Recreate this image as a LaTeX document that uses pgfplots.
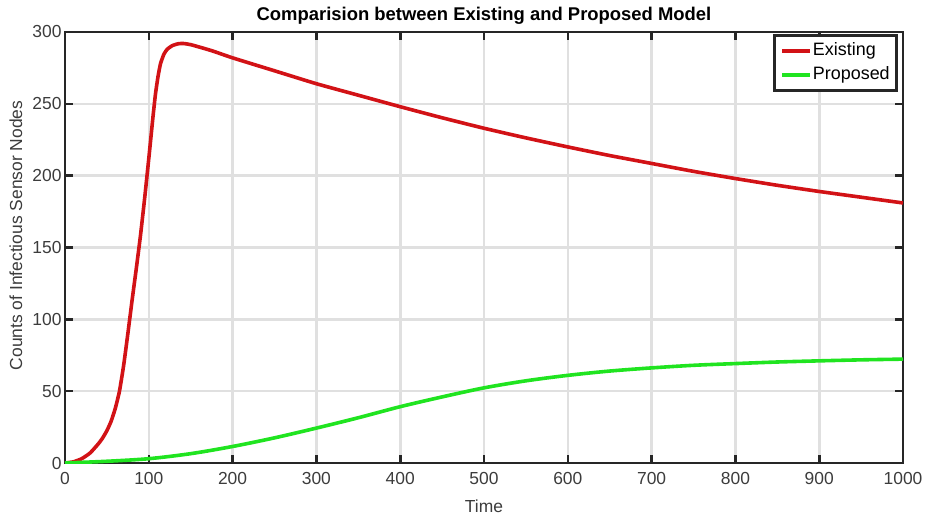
\documentclass[border=0pt]{standalone}
\usepackage{pgfplots}
\pgfplotsset{compat=1.18}
\usepackage{fontspec}
\setmainfont{Liberation Sans}

\definecolor{exred}{RGB}{210,18,22}
\definecolor{prgreen}{RGB}{32,228,32}
\definecolor{gridgray}{RGB}{224,224,224}
\definecolor{axisblack}{RGB}{38,38,38}
\definecolor{labelgray}{RGB}{60,60,60}

\begin{document}
\begin{tikzpicture}
\begin{axis}[
  scale only axis,
  width=838bp, height=431bp,
  xmin=0, xmax=1000, ymin=0, ymax=300,
  xtick={0,100,...,1000},
  ytick={0,50,...,300},
  grid=major,
  major grid style={line width=2.6bp, color=gridgray},
  axis line style={line width=2.6bp, color=axisblack},
  tick style={line width=2.6bp, color=axisblack},
  major tick length=8bp,
  tick align=inside,
  /pgf/number format/assume math mode=true,
  /pgf/number format/1000 sep={},
  ticklabel style={font=\fontsize{17.5}{20}\selectfont, text=labelgray},
  xticklabel style={yshift=-6bp},
  title={\bfseries Comparision between Existing and Proposed Model},
  title style={font=\fontsize{18.5}{20}\selectfont, yshift=-2bp},
  xlabel={Time},
  ylabel={Counts of Infectious Sensor Nodes},
  label style={font=\fontsize{17.5}{20}\selectfont, text=labelgray},
  xlabel style={at={(axis description cs:0.5,0)}, anchor=center, yshift=-43bp},
  ylabel style={at={(axis description cs:0,0.528)}, anchor=center, yshift=49bp},
  legend style={
    at={(1,1)}, anchor=north east, xshift=-5bp, yshift=-2bp,
    draw=axisblack, line width=2.6bp,
    font=\fontsize{18}{20}\selectfont,
    inner sep=6bp, row sep=5bp,
    text=black,
    nodes={text height=13bp, text depth=4bp, inner sep=1bp},
  },
  legend cell align=left,
  legend image code/.code={\draw[#1] (0bp,0bp) -- (28bp,0bp);},
]

% Existing model
\addplot[exred, line width=3.6bp, smooth, tension=0.3] coordinates {
  (0,0) (10,0.8) (20,3) (30,7) (40,13.5) (45,17.5) (50,22.5) (55,29)
  (60,38) (65,50) (70,68) (75,90) (80,113) (85,135) (90,158) (95,184)
  (100,212) (105,241) (108,257) (111,269) (114,278) (118,284.5)
  (122,288) (128,290.5) (135,291.8) (141,292) (150,291.2)
  (175,287) (200,282) (250,273) (300,264) (350,256) (400,248)
  (450,240.3) (500,233) (550,226.3) (600,220) (650,214) (700,208.5)
  (750,203) (800,198) (850,193.3) (900,189) (950,185) (1000,181)
};
\addlegendentry{Existing}

% Proposed model
\addplot[prgreen, line width=3.6bp, smooth, tension=0.5] coordinates {
  (0,0) (50,1.2) (100,3) (150,6.5) (200,11.5) (250,17.5) (300,24.3)
  (350,31.5) (400,39.2) (450,46) (500,52.3) (550,57.2) (600,61)
  (650,64) (700,66.2) (750,68) (800,69.2) (850,70.3) (900,71.1)
  (950,71.8) (1000,72.3)
};
\addlegendentry{Proposed}

\end{axis}
% page frame around the axis: margins for labels and title
\path (current axis.south west) ++(-65bp,-54bp) coordinate (frameSW);
\path (current axis.north east) ++(25bp,32bp) coordinate (frameNE);
\path (frameSW) rectangle (frameNE);
\end{tikzpicture}
\end{document}
